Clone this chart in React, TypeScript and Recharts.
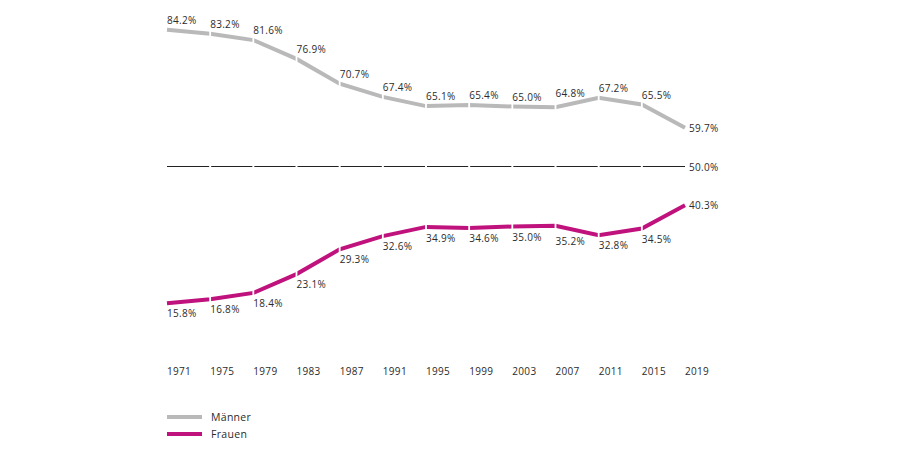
import React from "react";
import { LineChart, Line, XAxis, YAxis, LabelList } from "recharts";

const years = ["1971", "1975", "1979", "1983", "1987", "1991", "1995", "1999", "2003", "2007", "2011", "2015", "2019"];
const maenner = [84.2, 83.2, 81.6, 76.9, 70.7, 67.4, 65.1, 65.4, 65.0, 64.8, 67.2, 65.5, 59.7];
const frauen = [15.8, 16.8, 18.4, 23.1, 29.3, 32.6, 34.9, 34.6, 35.0, 35.2, 32.8, 34.5, 40.3];
const referenceValue = 50.0;

const GRAY = "#b9b9b9";
const MAGENTA = "#c0127c";
const TEXT = "#2b2b2b";
const FONT = "'Open Sans', 'Noto Sans', sans-serif";
const FS = 10;
const LS = 0.3;

const data = years.map((y, i) => ({
  year: y,
  maenner: maenner[i],
  frauen: frauen[i],
  ref: referenceValue,
}));

const n = years.length;
const fmt = (v: number) => `${Number(v).toFixed(1)}%`;

const makeCut = (h: number, w: number) => (props: any) => {
  const { cx, cy, index } = props;
  if (index === 0 || index === n - 1 || cx == null) return <g key={`c${index}`} />;
  return <rect key={`c${index}`} x={cx - w / 2} y={cy - h / 2} width={w} height={h} fill="#fff" />;
};

// dir: -1 = label above the point, +1 = below; pushes further away when the next segment heads toward the label
const makeLabel = (series: number[] | null, dir: number, onlyLast = false) => (props: any) => {
  const { x, y, value, index } = props;
  const last = index === n - 1;
  if (onlyLast && !last) return null;
  let dy = 0;
  if (!last && series) {
    const next = series[index + 1];
    const toward = dir < 0 ? next - series[index] : series[index] - next;
    dy = dir * (10 + Math.max(0, toward) * 2);
  }
  return (
    <text
      key={`l${index}`}
      x={last ? x + 4 : x}
      y={last ? y : y + dy}
      dominantBaseline="central"
      textAnchor="start"
      fill={TEXT}
      fontSize={FS}
      fontFamily={FONT}
      letterSpacing={LS}
    >
      {fmt(value)}
    </text>
  );
};

const YearTick = (props: any) => {
  const { x, y, payload } = props;
  return (
    <text x={x} y={y + 44} dominantBaseline="central" textAnchor="start" fill={TEXT} fontSize={FS} fontFamily={FONT} letterSpacing={LS}>
      {payload.value}
    </text>
  );
};

const legendItems = [
  { name: "Männer", color: GRAY },
  { name: "Frauen", color: MAGENTA },
];

export default function App() {
  return (
    <div style={{ position: "absolute", left: 0, top: 0, width: 900, height: 450, background: "#fff" }}>
      <LineChart width={900} height={450} data={data} margin={{ top: 6.5, right: 215, bottom: 63.5, left: 167 }}>
        <XAxis dataKey="year" axisLine={false} tickLine={false} tickSize={0} tickMargin={0} height={60} tick={<YearTick />} interval={0} />
        <YAxis hide domain={[10, 90]} />
        <Line dataKey="ref" stroke="#222" strokeWidth={1} isAnimationActive={false} dot={makeCut(4, 2)} activeDot={false}>
          <LabelList dataKey="ref" content={makeLabel(null, 0, true)} />
        </Line>
        <Line dataKey="maenner" type="linear" stroke={GRAY} strokeWidth={4} isAnimationActive={false} dot={makeCut(10, 1.8)} activeDot={false}>
          <LabelList dataKey="maenner" content={makeLabel(maenner, -1)} />
        </Line>
        <Line dataKey="frauen" type="linear" stroke={MAGENTA} strokeWidth={4} isAnimationActive={false} dot={makeCut(10, 1.8)} activeDot={false}>
          <LabelList dataKey="frauen" content={makeLabel(frauen, 1)} />
        </Line>
      </LineChart>
      <div style={{ position: "absolute", left: 167, top: 408, fontFamily: FONT, fontSize: 10.5, color: TEXT, letterSpacing: LS }}>
        {legendItems.map((it) => (
          <div key={it.name} style={{ display: "flex", alignItems: "center", height: 17 }}>
            <span style={{ display: "inline-block", width: 35, height: 4, background: it.color, marginRight: 9 }} />
            <span>{it.name}</span>
          </div>
        ))}
      </div>
    </div>
  );
}
